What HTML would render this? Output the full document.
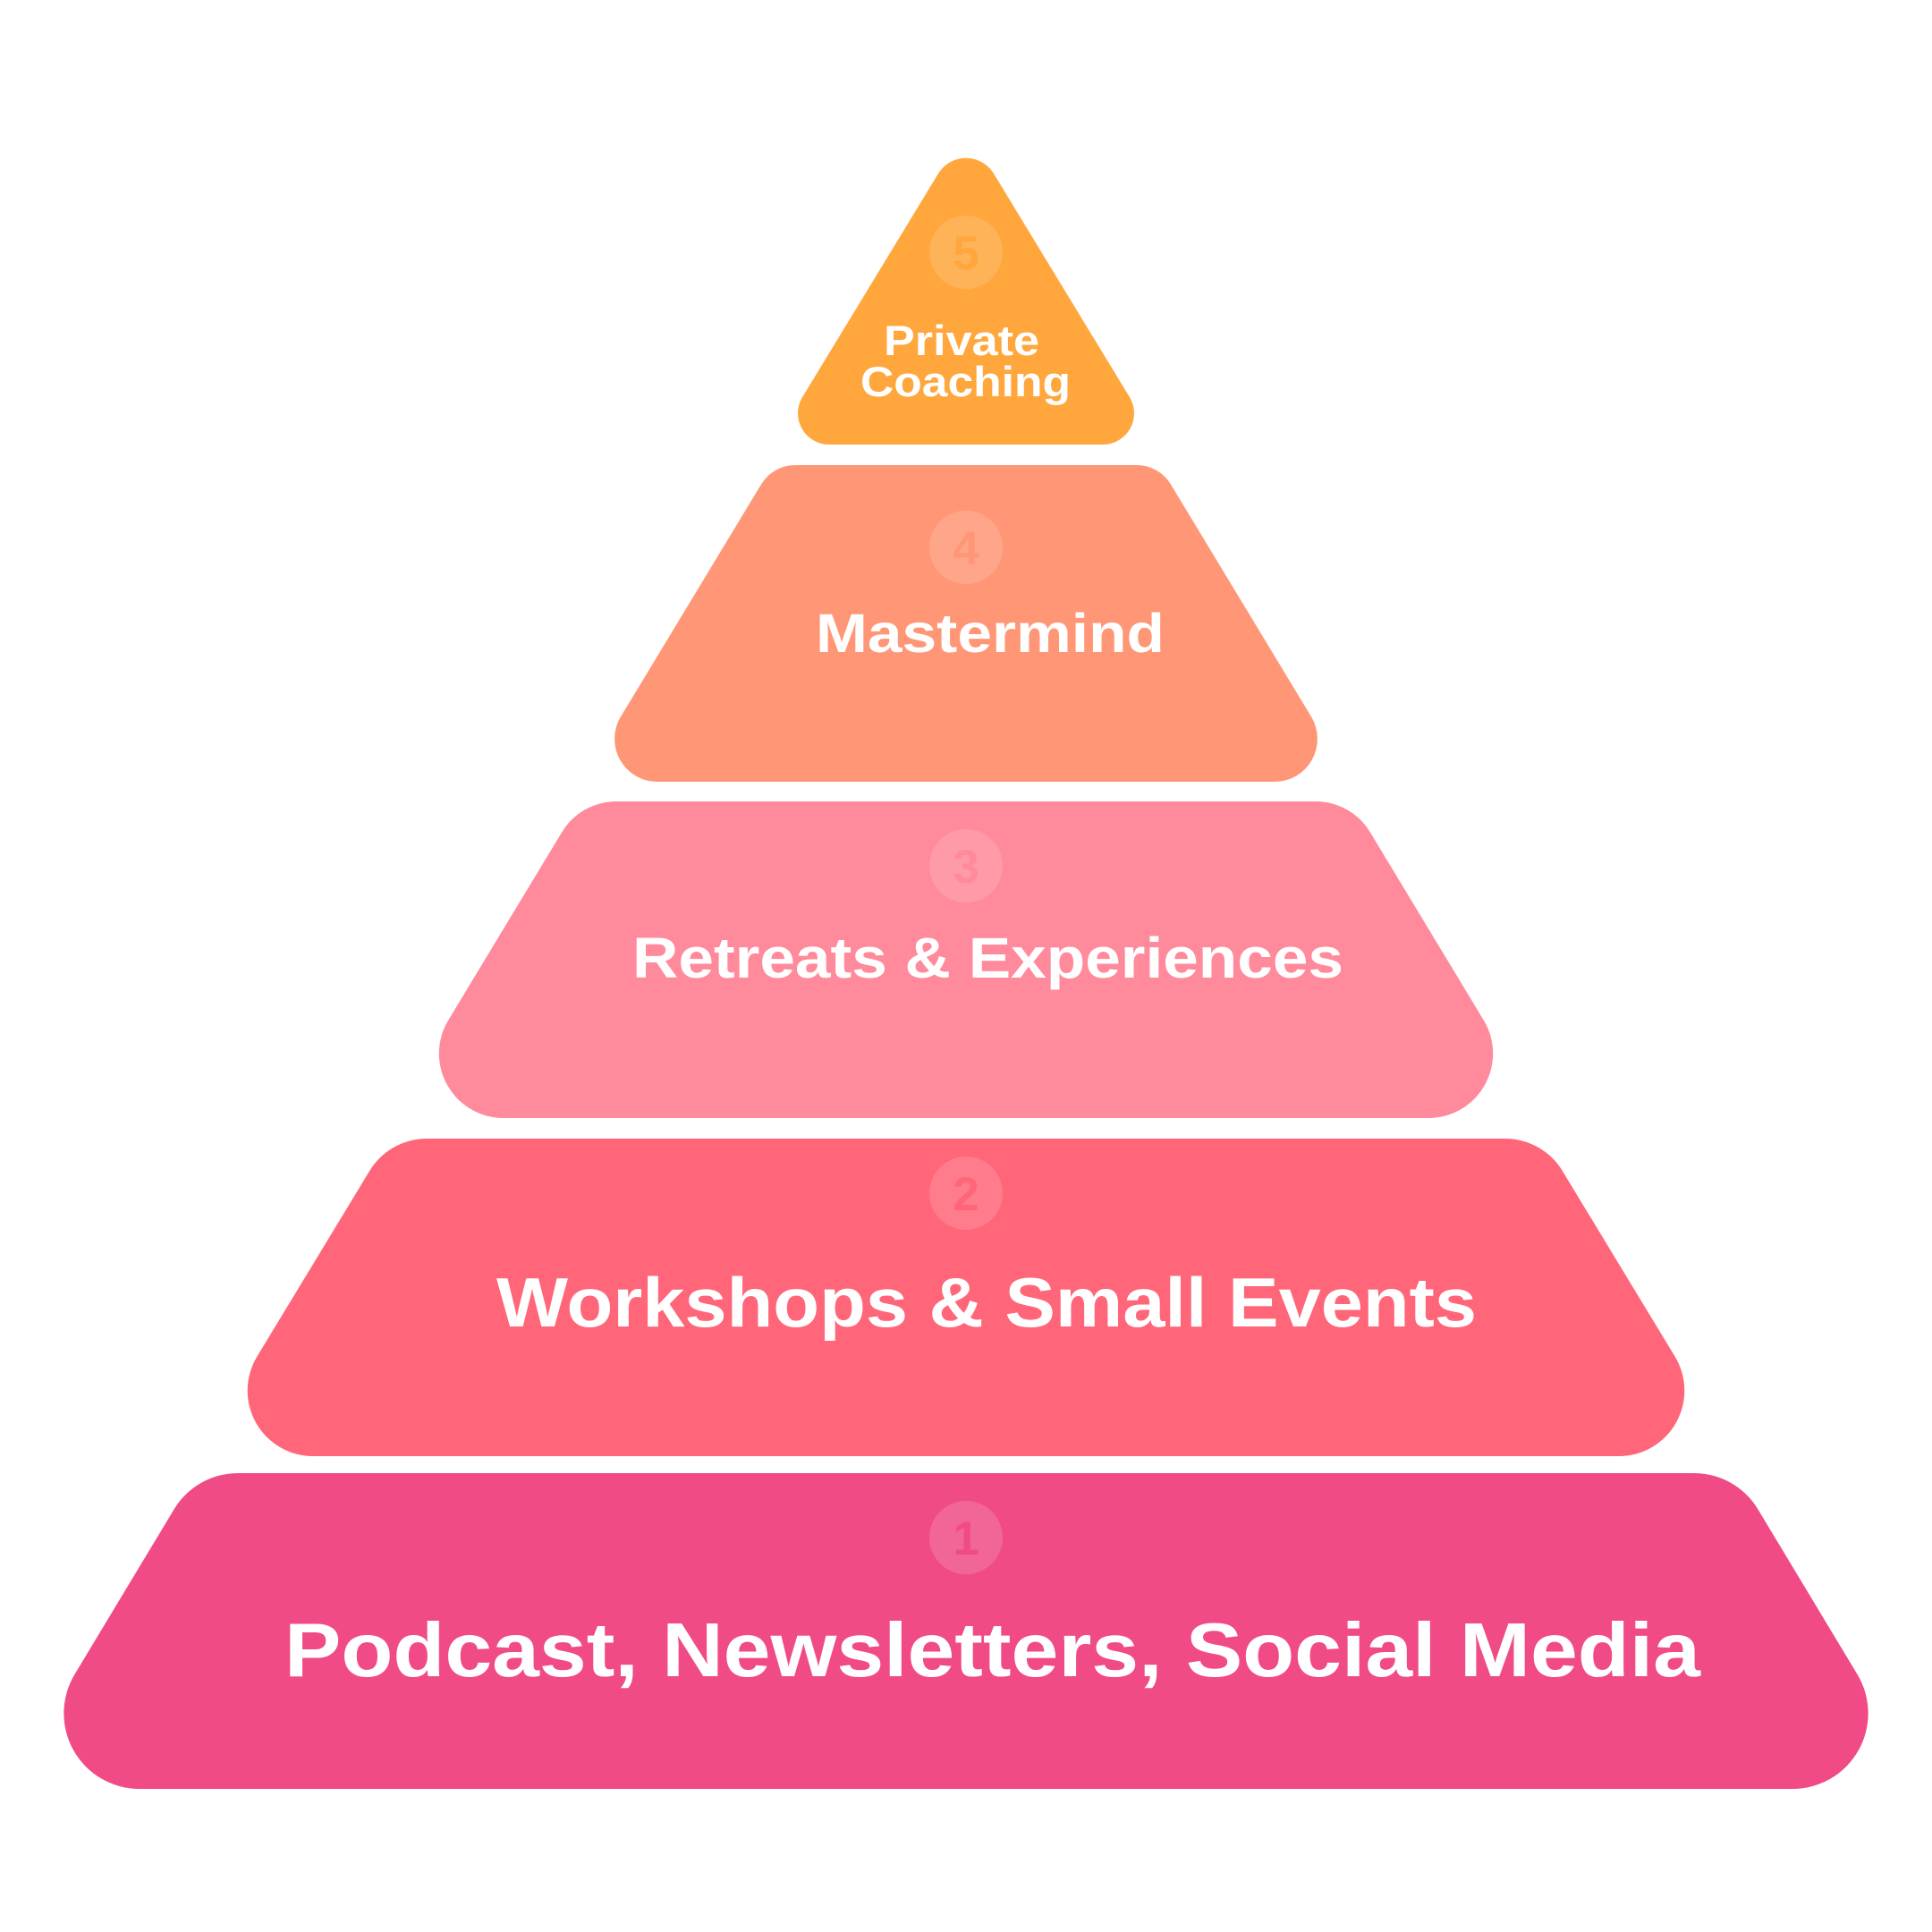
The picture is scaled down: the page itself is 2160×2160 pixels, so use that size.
<!DOCTYPE html>
<html>
<head>
<meta charset="utf-8">
<style>
  html, body { margin: 0; padding: 0; background: #ffffff; }
  body { width: 2160px; height: 2160px; overflow: hidden; }
  svg { display: block; }
  .lbl { font-family: "Liberation Sans", "DejaVu Sans", sans-serif; font-weight: 700; fill: #ffffff; }
  .num { font-family: "Liberation Sans", "DejaVu Sans", sans-serif; font-weight: 700; font-size: 53px; text-anchor: middle; }
</style>
</head>
<body>
<svg width="2160" height="2160" viewBox="0 0 2160 2160" xmlns="http://www.w3.org/2000/svg">
  <rect x="0" y="0" width="2160" height="2160" fill="#ffffff"/>

  <!-- Tier 5 -->
  <path fill="#FFA63C" d="M1048.9 194.3 A36.3 36.3 0 0 1 1111.1 194.3 L1262.9 444 A34.9 34.9 0 0 1 1233 497 L927 497 A34.9 34.9 0 0 1 897.1 444 Z"/>
  <circle cx="1080" cy="282" r="41" fill="#ffffff" fill-opacity="0.15"/>
  <text class="num" x="1080" y="301" fill="#FFA63C">5</text>
  <text class="lbl" x="988" y="397" font-size="47" textLength="174" lengthAdjust="spacingAndGlyphs">Private</text>
  <text class="lbl" x="962" y="443" font-size="47" textLength="235" lengthAdjust="spacingAndGlyphs">Coaching</text>

  <!-- Tier 4 -->
  <path fill="#FF9776" d="M889 520 L1271 520 A44.4 44.4 0 0 1 1308.9 541.4 L1466 801.3 A47.9 47.9 0 0 1 1425 874 L735 874 A47.9 47.9 0 0 1 694 801.3 L851.1 541.4 A44.4 44.4 0 0 1 889 520 Z"/>
  <circle cx="1080" cy="612" r="41" fill="#ffffff" fill-opacity="0.15"/>
  <text class="num" x="1080" y="631" fill="#FF9776">4</text>
  <text class="lbl" x="912" y="729" font-size="61" textLength="390" lengthAdjust="spacingAndGlyphs">Mastermind</text>

  <!-- Tier 3 -->
  <path fill="#FF8A9B" d="M689 896 L1471 896 A71 71 0 0 1 1531.7 930.2 L1658.7 1140.5 A72.1 72.1 0 0 1 1597 1250 L563 1250 A72.1 72.1 0 0 1 501.3 1140.5 L628.3 930.2 A71 71 0 0 1 689 896 Z"/>
  <circle cx="1080" cy="968" r="41" fill="#ffffff" fill-opacity="0.15"/>
  <text class="num" x="1080" y="987" fill="#FF8A9B">3</text>
  <text class="lbl" x="707" y="1093" font-size="64" textLength="795" lengthAdjust="spacingAndGlyphs">Retreats &amp; Experiences</text>

  <!-- Tier 2 -->
  <path fill="#FF6679" d="M477 1273 L1683 1273 A74.6 74.6 0 0 1 1746.7 1308.9 L1872.7 1516.8 A73.3 73.3 0 0 1 1810 1628 L350 1628 A73.3 73.3 0 0 1 287.3 1516.8 L413.3 1308.9 A74.6 74.6 0 0 1 477 1273 Z"/>
  <circle cx="1080" cy="1334" r="41" fill="#ffffff" fill-opacity="0.15"/>
  <text class="num" x="1080" y="1353" fill="#FF6679">2</text>
  <text class="lbl" x="555" y="1483" font-size="78" textLength="1096" lengthAdjust="spacingAndGlyphs">Workshops &amp; Small Events</text>

  <!-- Tier 1 -->
  <path fill="#F04B86" d="M266 1647 L1894 1647 A83.4 83.4 0 0 1 1965.3 1687.2 L2076.4 1871.7 A84.5 84.5 0 0 1 2004 2000 L156 2000 A84.5 84.5 0 0 1 83.6 1871.7 L194.7 1687.2 A83.4 83.4 0 0 1 266 1647 Z"/>
  <circle cx="1080" cy="1719" r="41" fill="#ffffff" fill-opacity="0.15"/>
  <text class="num" x="1080" y="1738" fill="#F04B86">1</text>
  <text class="lbl" x="318" y="1874" font-size="85" textLength="1583" lengthAdjust="spacingAndGlyphs">Podcast, Newsletters, Social Media</text>
</svg>
</body>
</html>
